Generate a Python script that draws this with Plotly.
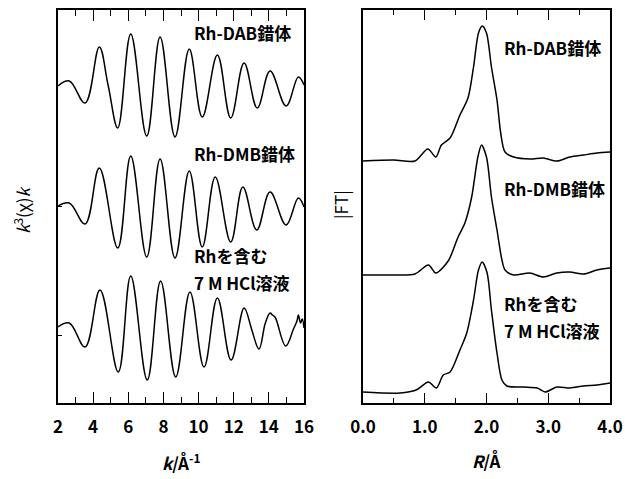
import plotly.graph_objects as go

W, H = 625, 479
FONT = "Noto Sans CJK JP"

# ---- k-space EXAFS spectra (k^3-weighted, vertically offset) ----
k_dab = [2.00, 2.64, 3.54, 4.35, 4.85, 5.40, 6.14, 7.05, 7.81, 8.66, 9.47, 10.21,
         11.07, 11.83, 12.59, 13.34, 14.07, 14.98, 15.68, 16.00]
chi_dab = [317, 322, 300, 356, 318, 275, 369, 267, 366, 266, 354, 286,
           348, 285, 340, 295, 332, 297, 326, 318]

k_dmb = [2.00, 2.64, 3.54, 4.35, 5.40, 6.14, 7.05, 7.81, 8.66, 9.47, 10.21,
         10.95, 11.83, 12.52, 13.31, 14.07, 14.98, 15.68, 16.00]
chi_dmb = [197, 200, 179, 235, 155, 247, 146, 244, 145, 232, 156,
           226, 161, 216, 173, 211, 178, 205, 196]

k_sol = [2.00, 2.64, 3.54, 4.39, 5.43, 6.14, 7.08, 7.84, 8.70, 9.51, 10.31,
         11.07, 11.85, 12.59, 12.95, 13.05, 13.44, 13.80, 14.07, 14.20, 14.35,
         14.96, 15.40, 15.60, 15.68, 15.80, 15.90, 16.00]
chi_sol = [76, 80, 56, 113, 31, 127, 23, 122, 26, 111, 36,
           105, 43, 95, 78, 72, 54, 80, 90, 88, 86,
           57, 74, 82, 88, 80, 84, 75]

# ---- Fourier transform magnitudes (vertically offset) ----
r_dab = [0.00, 0.50, 0.84, 1.05, 1.18, 1.27, 1.41, 1.57, 1.70, 1.79, 1.87, 1.93,
         2.00, 2.08, 2.17, 2.23, 2.30, 2.44, 2.71, 2.92, 3.14, 3.35, 3.57, 3.79, 4.00]
ft_dab = [242, 243, 242, 254, 246, 258, 265, 288, 305, 336, 370, 377,
          370, 336, 303, 270, 251, 246, 244, 245, 242, 246, 248, 250, 251]

r_dmb = [0.00, 0.50, 0.84, 1.06, 1.18, 1.38, 1.54, 1.65, 1.76, 1.86, 1.92,
         2.00, 2.08, 2.17, 2.25, 2.30, 2.44, 2.70, 2.92, 3.14, 3.35, 3.57, 3.79, 4.00]
ft_dmb = [128, 128, 129, 138, 130, 142, 166, 180, 206, 246, 258,
          246, 206, 173, 143, 133, 128, 130, 126, 130, 131, 129, 133, 135]

r_sol = [0.00, 0.60, 0.86, 1.06, 1.19, 1.30, 1.41, 1.57, 1.68, 1.79, 1.87, 1.93,
         2.01, 2.08, 2.17, 2.25, 2.33, 2.60, 2.82, 2.95, 3.14, 3.35, 3.57, 3.79, 4.00]
ft_sol = [11, 10, 13, 21, 15, 28, 31, 53, 70, 103, 133, 141,
          130, 93, 50, 23, 17, 16, 15, 11, 16, 15, 17, 18, 20]

k_ticks = [2, 4, 6, 8, 10, 12, 14, 16]
r_ticks = [0.0, 1.0, 2.0, 3.0, 4.0]
r_ticktext = ["0.0", "1.0", "2.0", "3.0", "4.0"]

labels_left = [("Rh-DAB錯体", 371), ("Rh-DMB錯体", 250), ("Rhを含む", 148), ("7 M HCl溶液", 121)]
labels_right = [("Rh-DAB錯体", 356), ("Rh-DMB錯体", 215), ("Rhを含む", 100), ("7 M HCl溶液", 73)]

fig = go.Figure()
for kx, cy in [(k_dab, chi_dab), (k_dmb, chi_dmb), (k_sol, chi_sol)]:
    fig.add_trace(go.Scatter(x=kx, y=cy, mode="lines",
                             line=dict(color="black", width=1.5, shape="spline", smoothing=1.1),
                             xaxis="x", yaxis="y", showlegend=False, hoverinfo="skip"))
for rx, fy in [(r_dab, ft_dab), (r_dmb, ft_dmb), (r_sol, ft_sol)]:
    fig.add_trace(go.Scatter(x=rx, y=fy, mode="lines",
                             line=dict(color="black", width=1.5, shape="spline", smoothing=0.8),
                             xaxis="x2", yaxis="y2", showlegend=False, hoverinfo="skip"))

ydom = [(H - 403) / H, (H - 10) / H]
tick_font = dict(family=FONT, size=17, color="black", weight="bold")
xcommon = dict(showline=True, linecolor="black", linewidth=1.6, mirror="ticks",
               ticks="inside", ticklen=11, tickwidth=1.2, tickcolor="black",
               showgrid=False, zeroline=False, automargin=False,
               tickfont=tick_font, ticklabelstandoff=8)

fig.update_layout(
    template="none",
    width=W, height=H,
    margin=dict(l=0, r=0, t=0, b=0, pad=0, autoexpand=False),
    paper_bgcolor="white", plot_bgcolor="white",
    showlegend=False,
    xaxis=dict(xcommon, domain=[58 / W, 304 / W], range=[2, 16], anchor="y",
               tickvals=k_ticks,
               minor=dict(dtick=1, ticklen=6, tickwidth=1.2, tickcolor="black", ticks="inside")),
    yaxis=dict(domain=ydom, range=[0, 393], showline=True, linecolor="black", linewidth=1.6,
               mirror=True, ticks="inside", ticklen=4, tickcolor="black",
               tickvals=[68, 197], showticklabels=False, showgrid=False, zeroline=False,
               automargin=False, anchor="x"),
    xaxis2=dict(xcommon, domain=[363 / W, 610 / W], range=[0, 4], anchor="y2",
                tickvals=r_ticks, ticktext=r_ticktext, ticklen=10,
                minor=dict(dtick=0.5, ticklen=5, tickwidth=1.2, tickcolor="black", ticks="inside")),
    yaxis2=dict(domain=ydom, range=[0, 393], showline=True, linecolor="black", linewidth=1.6,
                mirror=True, ticks="", showticklabels=False, showgrid=False, zeroline=False,
                automargin=False, anchor="x2"),
)

ann_font = dict(family=FONT, size=17, color="black", weight="bold")
title_font = dict(family=FONT, size=17, color="black")
for text, yv in labels_left:
    fig.add_annotation(x=9.63, y=yv, xref="x", yref="y", text=text, showarrow=False,
                       xanchor="left", yanchor="middle", font=ann_font)
for text, yv in labels_right:
    fig.add_annotation(x=2.25, y=yv, xref="x2", yref="y2", text=text, showarrow=False,
                       xanchor="left", yanchor="middle", font=ann_font)

# axis titles
fig.add_annotation(x=181 / W, y=(H - 462) / H, xref="paper", yref="paper",
                   text="<i>k</i>/Å<sup>-1</sup>", showarrow=False,
                   xanchor="center", yanchor="middle", font=ann_font)
fig.add_annotation(x=486 / W, y=(H - 460) / H, xref="paper", yref="paper",
                   text="<i>R</i>/Å", showarrow=False,
                   xanchor="center", yanchor="middle", font=ann_font)
fig.add_annotation(x=22 / W, y=(H - 210) / H, xref="paper", yref="paper",
                   text="<i>k</i><sup>3</sup>(χ)<i>k</i>", showarrow=False, textangle=-90,
                   xanchor="center", yanchor="middle", font=title_font)
fig.add_annotation(x=340 / W, y=(H - 205) / H, xref="paper", yref="paper",
                   text="|FT|", showarrow=False, textangle=-90,
                   xanchor="center", yanchor="middle", font=title_font)

fig.write_html("out.html")
